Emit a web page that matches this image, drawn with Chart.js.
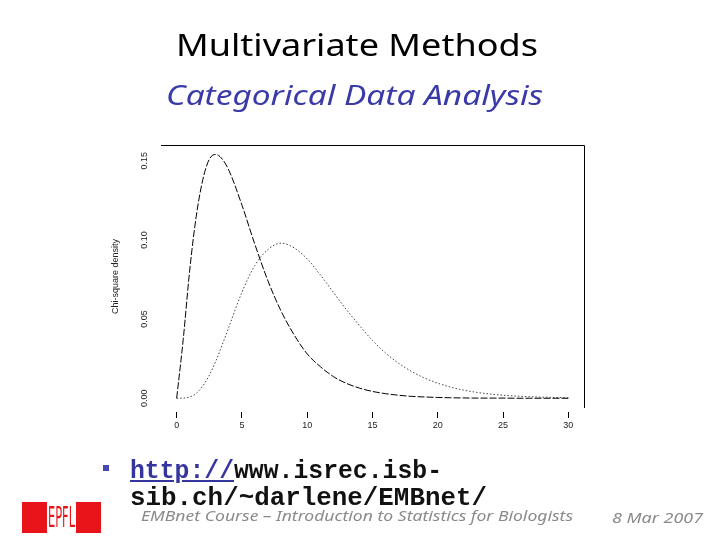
<!DOCTYPE html>
<html>
<head>
<meta charset="utf-8">
<script src="https://cdn.jsdelivr.net/npm/chart.js@4/dist/chart.umd.min.js"></script>
<style>
  body { margin: 0; width: 720px; height: 540px; background: #fff; position: relative; overflow: hidden; }
  #chart { position: absolute; left: 0; top: 0; }
  .txt { position: absolute; white-space: nowrap; transform-origin: left top; line-height: 1; }
  #title { font-family: "Noto Sans", sans-serif; font-size: 31px; color: #000; left: 176px; top: 29px; }
  #subtitle { font-family: "Noto Sans", sans-serif; font-style: italic; font-size: 27px; color: #3a3aa8; left: 166px; top: 81px; }
  .url { font-family: "Liberation Mono", monospace; font-weight: bold; font-size: 25px; color: #111; left: 130px; }
  .url a { color: #3535a0; text-decoration: underline; }
  #bullet { position: absolute; left: 103px; top: 465px; width: 6px; height: 6px; background: #4848b0; }
  #footer { font-family: "Noto Sans", sans-serif; font-style: italic; font-size: 15px; color: #8a8a8a; left: 141px; top: 508px; }
  #date { font-family: "Noto Sans", sans-serif; font-style: italic; font-size: 15px; color: #8a8a8a; left: 612px; top: 510px; }
  #logo { position: absolute; left: 22px; top: 502px; width: 79px; height: 31px; background: #e8141a; }
  #logo .mid { position: absolute; left: 25px; top: 0; width: 29px; height: 31px; background: #fff; overflow: hidden; }
  #logo .mid span { position: absolute; left: 1px; top: 1px; color: #e8141a; transform-origin: left top; white-space: nowrap;
    font-family: "DejaVu Sans Condensed", "DejaVu Sans", sans-serif; font-size: 29px; line-height: 29px; }
</style>
</head>
<body>
<canvas id="chart" width="720" height="540"></canvas>
<div class="txt" id="title" data-w="362">Multivariate Methods</div>
<div class="txt" id="subtitle" data-w="377">Categorical Data Analysis</div>
<div id="bullet"></div>
<div class="txt url" style="top:459px" data-w="312"><a>http://</a>www.isrec.isb-</div>
<div class="txt url" style="top:486px" data-w="357">sib.ch/~darlene/EMBnet/</div>
<div class="txt" id="footer" data-w="432">EMBnet Course – Introduction to Statistics for Biologists</div>
<div class="txt" id="date" data-w="91">8 Mar 2007</div>
<div id="logo"><div class="mid"><span data-w="27">EPFL</span></div></div>
<script>
// values
const xValues = [0, 0.5, 1, 1.5, 2, 2.5, 3, 3.5, 4, 5, 6, 7, 8, 9, 10, 11, 12, 13, 14, 15,
                 16, 17, 18, 19, 20, 21, 22, 23, 24, 25, 26, 27, 28, 29, 30];
const df5 = [0, 0.037, 0.081, 0.115, 0.138, 0.151, 0.154, 0.151, 0.144, 0.122, 0.097, 0.074, 0.055, 0.040, 0.028, 0.020,
             0.0137, 0.0094, 0.0064, 0.0043, 0.0029, 0.0019, 0.0012, 0.0008, 0.0005, 0.0003, 0.0002, 0.0001, 0.0001,
             0.0001, 0, 0, 0, 0, 0];
const df10 = [0, 0.0001, 0.0008, 0.0031, 0.0077, 0.0146, 0.0235, 0.034, 0.045, 0.067, 0.084, 0.094, 0.098, 0.095, 0.088, 0.078,
              0.067, 0.056, 0.046, 0.0365, 0.0286, 0.0221, 0.0169, 0.0127, 0.0095, 0.007, 0.0051, 0.0037, 0.0027,
              0.0019, 0.0014, 0.001, 0.0007, 0.0005, 0.0003];
const xTicks = [0, 5, 10, 15, 20, 25, 30];
const yTicks = [0, 0.05, 0.10, 0.15];
const yTickLabels = ['0.00', '0.05', '0.10', '0.15'];

const toPoints = ys => xValues.map((x, i) => ({ x: x, y: ys[i] }));

// top and right frame lines, rotated y labels
const framePlugin = {
    id: 'frame',
    afterDraw(chart) {
        const { ctx, chartArea: a } = chart;
        ctx.save();
        ctx.strokeStyle = '#000';
        ctx.lineWidth = 1;
        ctx.beginPath();
        ctx.moveTo(a.left, a.top + 0.5);
        ctx.lineTo(a.right + 0.5, a.top + 0.5);
        ctx.lineTo(a.right + 0.5, a.bottom);
        ctx.stroke();
        const ys = chart.scales.y;
        ctx.fillStyle = '#222';
        ctx.font = '9px "Liberation Sans", sans-serif';
        ctx.textAlign = 'center';
        ctx.textBaseline = 'middle';
        yTicks.forEach((v, i) => {
            ctx.save();
            ctx.translate(145, ys.getPixelForValue(v));
            ctx.rotate(-Math.PI / 2);
            ctx.fillText(yTickLabels[i], 0, 0);
            ctx.restore();
        });
        ctx.restore();
    }
};

new Chart(document.getElementById('chart'), {
    type: 'line',
    data: {
        datasets: [{
            data: toPoints(df5),
            borderColor: '#000',
            borderWidth: 1,
            borderDash: [7, 2],
            pointRadius: 0,
            tension: 0.4,
            cubicInterpolationMode: 'monotone'
        }, {
            data: toPoints(df10),
            borderColor: '#444',
            borderWidth: 1,
            borderDash: [1.5, 2],
            pointRadius: 0,
            tension: 0.4,
            cubicInterpolationMode: 'monotone'
        }]
    },
    options: {
        responsive: false,
        animation: false,
        layout: { padding: { left: 100, top: 145, right: 136, bottom: 102 } },
        plugins: { legend: { display: false }, tooltip: { enabled: false } },
        scales: {
            x: {
                type: 'linear',
                min: -1.2,
                max: 31.2,
                afterBuildTicks: s => { s.ticks = xTicks.map(v => ({ value: v })); },
                afterFit: s => { s.height = 30; },
                border: { display: false },
                grid: {
                    display: true,
                    drawOnChartArea: false,
                    drawTicks: true,
                    tickLength: 10,
                    tickBorderDash: [0, 4, 6, 100],
                    tickColor: '#000'
                },
                ticks: { color: '#222', padding: 2, maxRotation: 0, font: { family: 'Liberation Sans', size: 9 } }
            },
            y: {
                min: -0.00616,
                max: 0.160,
                afterFit: s => { s.width = 61; },
                border: { display: false },
                grid: { display: false },
                ticks: { display: false },
                title: {
                    display: true,
                    text: 'Chi-square density',
                    color: '#222',
                    padding: { top: 10, bottom: 0 },
                    font: { family: 'Liberation Sans', size: 9 }
                }
            }
        }
    },
    plugins: [framePlugin]
});

// squeeze text blocks to the measured widths
document.querySelectorAll('[data-w]').forEach(el => {
    const w = el.getBoundingClientRect().width;
    el.style.transform = 'scaleX(' + (parseFloat(el.dataset.w) / w) + ')';
});
</script>
</body>
</html>
